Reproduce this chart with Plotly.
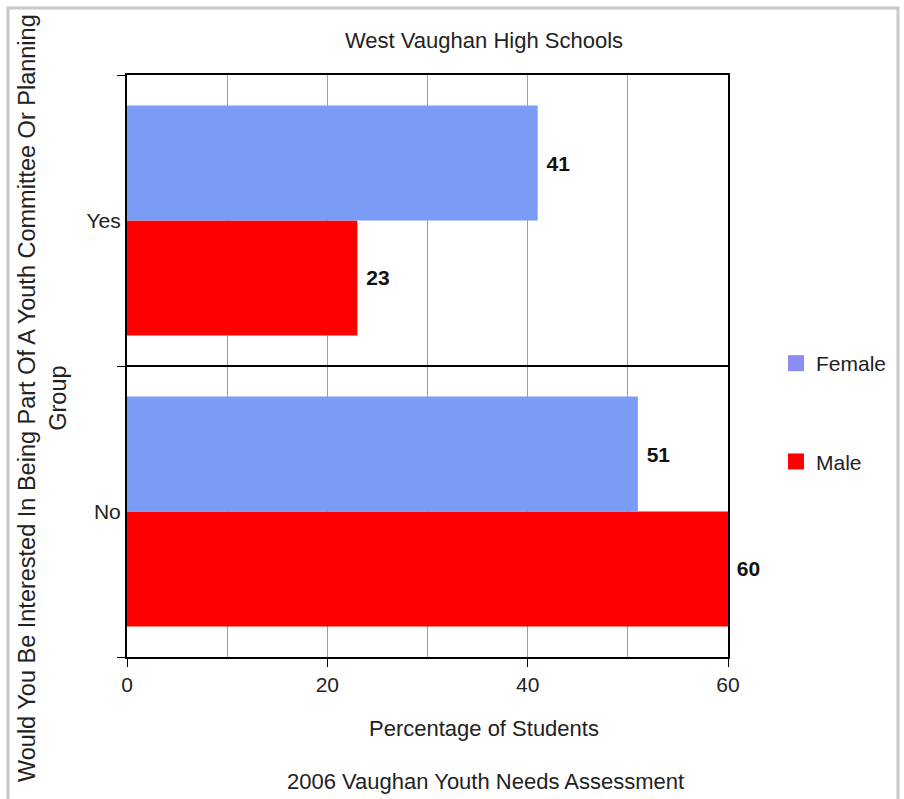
import plotly.graph_objects as go

categories = ["No", "Yes"]
female = [51, 41]
male = [60, 23]
x_ticks = [0, 20, 40, 60]

FEMALE_COLOR = "#7B9CF4"
MALE_COLOR = "#FF0000"
FONT = "Liberation Sans, Arial, sans-serif"
TXT = "#222222"

fig = go.Figure()
fig.add_trace(go.Bar(
    y=categories, x=male, orientation="h", name="Male",
    marker=dict(color=MALE_COLOR, line=dict(width=0)),
    text=male, texttemplate="\u00a0%{x}", textposition="outside",
    textfont=dict(family=FONT, size=21, color="#111111", weight="bold"),
    cliponaxis=False, constraintext="none", showlegend=False,
))
fig.add_trace(go.Bar(
    y=categories, x=female, orientation="h", name="Female",
    marker=dict(color=FEMALE_COLOR, line=dict(width=0)),
    text=female, texttemplate="\u00a0%{x}", textposition="outside",
    textfont=dict(family=FONT, size=21, color="#111111", weight="bold"),
    cliponaxis=False, constraintext="none", showlegend=False,
))
# legend entries
fig.add_trace(go.Scatter(x=[None], y=[None], mode="markers", name="Female",
                         marker=dict(symbol="square", size=20, color="#8C8CF8"),
                         legendgroup="f"))
fig.add_trace(go.Scatter(x=[None], y=[None], mode="markers", name="Male",
                         marker=dict(symbol="square", size=20, color=MALE_COLOR),
                         legendgroup="m"))

W, H = 904, 799
L, R, T, B = 127, 176, 75, 142
pw, ph = W - L - R, H - T - B

def px2x(px):
    return (px - L) / pw

def py2y(py):
    return (H - B - py) / ph

fig.update_layout(
    width=W, height=H,
    margin=dict(l=L, r=R, t=T, b=B),
    paper_bgcolor="white", plot_bgcolor="white",
    barmode="group", bargap=0.21, bargroupgap=0,
    font=dict(family=FONT, size=21, color=TXT),
    showlegend=True,
    legend=dict(x=px2x(776), y=py2y(343), xanchor="left", yanchor="top",
                font=dict(family=FONT, size=21, color=TXT),
                tracegroupgap=68, bgcolor="rgba(0,0,0,0)"),
    xaxis=dict(range=[0, 60], tickvals=x_ticks, showgrid=True, gridcolor="#A0A0A0",
               gridwidth=1, showline=True, linecolor="black", linewidth=2,
               mirror=True, ticks="outside", ticklen=8, tickcolor="black",
               tickfont=dict(size=21, color=TXT), zeroline=False,
               tickmode="array"),
    yaxis=dict(type="category", categoryorder="array", categoryarray=categories,
               tickson="boundaries", showgrid=True, gridcolor="black", gridwidth=1.5,
               showline=True, linecolor="black", linewidth=2, mirror=True,
               ticks="outside", ticklen=8, tickcolor="black",
               tickfont=dict(size=21, color=TXT), zeroline=False),
)
fig.update_xaxes(minor=dict(tickvals=[10, 30, 50], showgrid=True, gridcolor="#A0A0A0", ticks=""))

def ann(text, xpx, ypx, size, angle=0):
    fig.add_annotation(text=text, xref="paper", yref="paper",
                       x=px2x(xpx), y=py2y(ypx), xanchor="center", yanchor="middle",
                       showarrow=False, textangle=angle,
                       font=dict(family=FONT, size=size, color=TXT))

ann("West Vaughan High Schools", 484, 41, 22)
ann("Percentage of Students", 484, 728, 22)
ann("2006 Vaughan Youth Needs Assessment", 485, 781, 22)
ann("Would You Be Interested In Being Part Of A Youth Committee Or Planning<br>Group",
    42, 398, 23.5, angle=-90)

# outer frame
fig.add_shape(type="rect", xref="paper", yref="paper",
              x0=px2x(8), x1=px2x(898), y0=py2y(812), y1=py2y(8),
              line=dict(color="#C8C8C8", width=3), layer="below")

fig.write_html("out.html")
